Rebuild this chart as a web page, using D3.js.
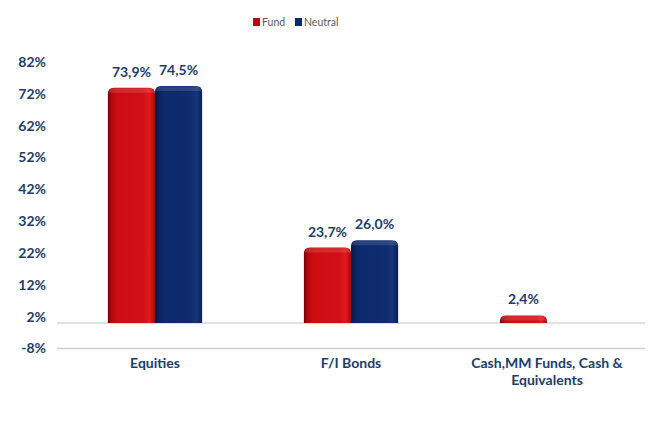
<!DOCTYPE html>
<html>
<head>
<meta charset="utf-8">
<script src="https://cdn.jsdelivr.net/npm/d3@7"></script>
<style>
body { margin: 0; background: #fff; }
svg text { font-family: Lato, "Open Sans", sans-serif; }
</style>
</head>
<body>
<div class="container"></div>
<script>
var categories = ["Equities", "F/I Bonds", "Cash,MM Funds, Cash & Equivalents"];
var seriesNames = ["Fund", "Neutral"];
var fundValues = [73.9, 23.7, 2.4];
var neutralValues = [74.5, 26.0, 0];
var tickValues = [-8, 2, 12, 22, 32, 42, 52, 62, 72, 82];

const WIDTH = 672;
const HEIGHT = 426;
const LEFT = 57, RIGHT = 645, TOP = 62, BOTTOM = 348.5;
const TEXT_COL = "#1c3d6c";

var colors = { Fund: "fund", Neutral: "neutral" };

var svg = d3.select('.container').append('svg')
	.attr('width', WIDTH)
	.attr('height', HEIGHT);

var defs = svg.append('defs');

var addGrad = function(id, stops){
	var g = defs.append('linearGradient').attr('id', id)
		.attr('x1', 0).attr('x2', 1).attr('y1', 0).attr('y2', 0);
	stops.forEach(function(s){
		g.append('stop').attr('offset', s[0]).attr('stop-color', s[1]);
	});
};
addGrad('fund', [[0, '#7a0006'], [0.08, '#b00a10'], [0.2, '#cc0d13'], [0.75, '#d01016'], [0.88, '#e2191d'], [0.96, '#c20e14'], [1, '#9a0a0e']]);
addGrad('neutral', [[0, '#061740'], [0.08, '#0a2260'], [0.2, '#0d2a6b'], [0.75, '#0e2c6e'], [0.88, '#163678'], [0.96, '#0c2865'], [1, '#081d4c']]);

var x0 = d3.scaleBand()
	.domain(categories)
	.range([LEFT, RIGHT])
	.paddingInner(0)
	.paddingOuter(0);

var x1 = d3.scaleBand()
	.domain(seriesNames)
	.range([0, x0.bandwidth()])
	.paddingInner(0)
	.paddingOuter(1.08);

var y = d3.scaleLinear()
	.domain([-8, 82])
	.range([BOTTOM, TOP]);

// grid lines: bottom axis and zero baseline
svg.append('line')
	.attr('x1', LEFT).attr('x2', RIGHT)
	.attr('y1', y(-8)).attr('y2', y(-8))
	.attr('stroke', '#cfcfcf').attr('stroke-width', 1.5);
svg.append('line')
	.attr('x1', LEFT).attr('x2', RIGHT)
	.attr('y1', y(0)).attr('y2', y(0))
	.attr('stroke', '#d6d6d6').attr('stroke-width', 1.5);

// y axis
var yAxis = d3.axisLeft(y)
	.tickValues(tickValues)
	.tickSize(0)
	.tickPadding(0)
	.tickFormat(function(d){ return d + "%"; });

var yg = svg.append('g')
	.attr('transform', 'translate(46,0)')
	.call(yAxis);
yg.select('.domain').remove();
yg.selectAll('text')
	.attr('fill', TEXT_COL)
	.style('font-size', '14px')
	.style('font-weight', 'bold');

var rows = categories.map(function(c, i){
	return { cat: c, vals: [ { s: "Fund", v: fundValues[i] }, { s: "Neutral", v: neutralValues[i] } ] };
});

var barPath = function(x, w, yTop, yBase, r){
	var h = yBase - yTop;
	r = Math.min(r, h, w / 2);
	return "M" + x + "," + yBase +
		"V" + (yTop + r) +
		"Q" + x + "," + yTop + " " + (x + r) + "," + yTop +
		"H" + (x + w - r) +
		"Q" + (x + w) + "," + yTop + " " + (x + w) + "," + (yTop + r) +
		"V" + yBase + "Z";
};

var groups = svg.selectAll('g.cat').data(rows)
	.enter().append('g')
	.attr('class', 'cat')
	.attr('transform', function(d){ return 'translate(' + x0(d.cat) + ',0)'; });

var bars = groups.selectAll('g.bar').data(function(d){ return d.vals.filter(function(e){ return e.v > 0; }); })
	.enter().append('g').attr('class', 'bar');

bars.append('path')
	.attr('d', function(d){ return barPath(x1(d.s), x1.bandwidth(), y(d.v), y(0), 6); })
	.attr('fill', function(d){ return 'url(#' + colors[d.s] + ')'; });

// top highlight
bars.append('path')
	.attr('d', function(d){ return barPath(x1(d.s) + 1, x1.bandwidth() - 2, y(d.v) + 0.5, Math.min(y(d.v) + 5, y(0)), 5); })
	.attr('fill', '#ffffff')
	.attr('opacity', 0.12);

bars.append('text')
	.attr('x', function(d){ return x1(d.s) + x1.bandwidth() / 2; })
	.attr('y', function(d){ return y(d.v) - 11; })
	.attr('text-anchor', 'middle')
	.attr('fill', TEXT_COL)
	.style('font-size', '14px')
	.style('font-weight', 'bold')
	.text(function(d){ return d3.format('.1f')(d.v).replace('.', ',') + '%'; });

// category labels
var labelLines = [["Equities"], ["F/I Bonds"], ["Cash,MM Funds, Cash &", "Equivalents"]];
groups.append('text')
	.attr('text-anchor', 'middle')
	.attr('fill', TEXT_COL)
	.style('font-size', '14px')
	.style('font-weight', 'bold')
	.selectAll('tspan').data(function(d, i){ return labelLines[i]; })
	.enter().append('tspan')
	.attr('x', x0.bandwidth() / 2)
	.attr('y', function(d, i){ return 368 + i * 16.5; })
	.text(function(d){ return d; });

// legend
var legend = svg.append('g').attr('transform', 'translate(253,22)');
var lx = [0, 42];
seriesNames.forEach(function(s, i){
	var g = legend.append('g').attr('transform', 'translate(' + lx[i] + ',0)');
	g.append('rect').attr('x', 0).attr('y', -4).attr('width', 7).attr('height', 8)
		.attr('fill', i === 0 ? '#b00a10' : '#0d2a6b');
	g.append('text').attr('x', 9).attr('y', 3.5)
		.attr('fill', '#595959')
		.style('font-size', '10.5px')
		.text(s);
});
</script>
</body>
</html>
